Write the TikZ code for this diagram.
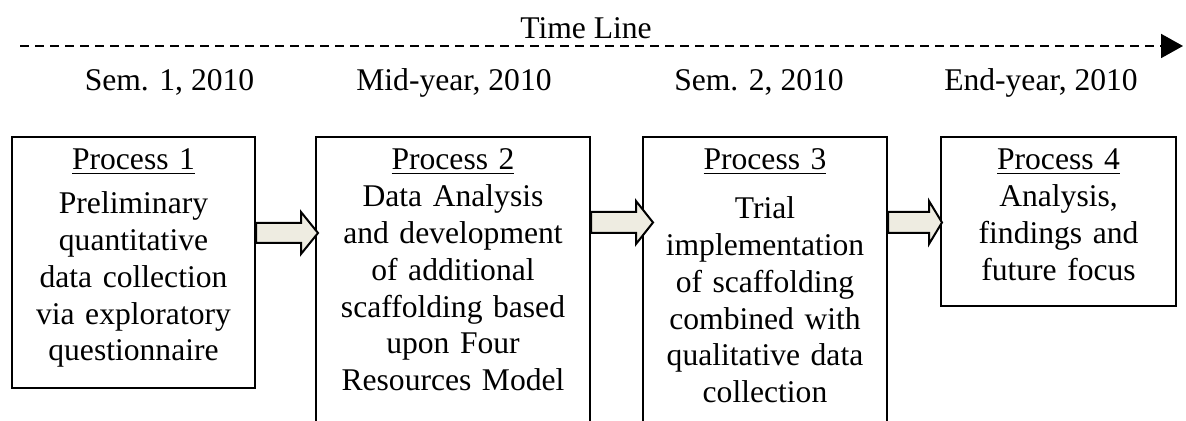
\documentclass[tikz,border=0pt]{standalone}
\usepackage{fontspec}
\setmainfont{Liberation Serif}
\usetikzlibrary{positioning,fit,arrows.meta}
\definecolor{arrowfill}{HTML}{EEECE1}
\tikzset{
	x=0.5pt, y=-0.5pt, % one unit is one pixel of the layout, y grows downwards
	every node/.style={font=\fontsize{15.8}{18.4}\selectfont, inner sep=0pt},
	box/.style={draw, line width=1pt}, % the process boxes
	boxtext/.style={align=center, anchor=base}, % text inside a box, placed by its first baseline
	date/.style={anchor=base},
	timeline/.style={line width=1pt, dash pattern=on 4.5pt off 3pt, -{Triangle[length=11pt,width=12pt]}},
	flowarrow/.style={draw, fill=arrowfill, line width=1pt, line join=miter}, % block arrows between boxes
}
\begin{document}
\begin{tikzpicture}
	\useasboundingbox (0,0) rectangle (1186,421);
	\clip (0,0) rectangle (1186,421);

	% time line
	\coordinate (tstart) at (20,46);
	\coordinate (tend) at (1183,46);
	\draw[timeline] (tstart) -- (tend);
	\node[date] (tl) at (586,39) {Time Line};

	\node[date] (d1) at (169.5,91) {Sem. 1, 2010};
	\node[date] (d2) at (454,91) {Mid-year, 2010};
	\node[date] (d3) at (759,91) {Sem. 2, 2010};
	\node[date] (d4) at (1041,91) {End-year, 2010};

	% boxes
	\node[box, fit={(12,137) (255,388)}] (p1) {};
	\node[box, fit={(316,137) (590,460)}] (p2) {};
	\node[box, fit={(643,137) (887,460)}] (p3) {};
	\node[box, fit={(941,137) (1176,306)}] (p4) {};

	\node[boxtext, text width=112pt] (t1) at (p1.north |- 0,170) {\underline{Process 1}\\[3.5pt]
		Preliminary\\ quantitative\\ data collection\\ via exploratory\\ questionnaire};
	\node[boxtext, text width=128pt] (t2) at (p2.north |- 0,170) {\underline{Process 2}\\
		Data Analysis\\ and development\\ of additional\\ scaffolding based\\ upon Four\\ Resources Model};
	\node[boxtext, text width=112pt] (t3) at (p3.north |- 0,170) {\underline{Process 3}\\[6pt]
		Trial\\ implementation\\ of scaffolding\\ combined with\\ qualitative data\\ collection};
	\node[boxtext, text width=108pt] (t4) at (p4.north |- 0,170) {\underline{Process 4}\\
		Analysis,\\ findings and\\ future focus};

	% arrows between the boxes
	\draw[flowarrow] (p1.east |- 0,223) -- ++(45,0) -- ++(0,-11) -- ++(17,21) -- ++(-17,21) -- ++(0,-11) -- ++(-45,0) -- cycle;
	\draw[flowarrow] (p2.east |- 0,212) -- ++(45,0) -- ++(0,-11) -- ++(17,21.5) -- ++(-17,21.5) -- ++(0,-11) -- ++(-45,0) -- cycle;
	\draw[flowarrow] (p3.east |- 0,212) -- ++(41,0) -- ++(0,-11) -- ++(13,21.5) -- ++(-13,21.5) -- ++(0,-11) -- ++(-41,0) -- cycle;
\end{tikzpicture}
\end{document}
